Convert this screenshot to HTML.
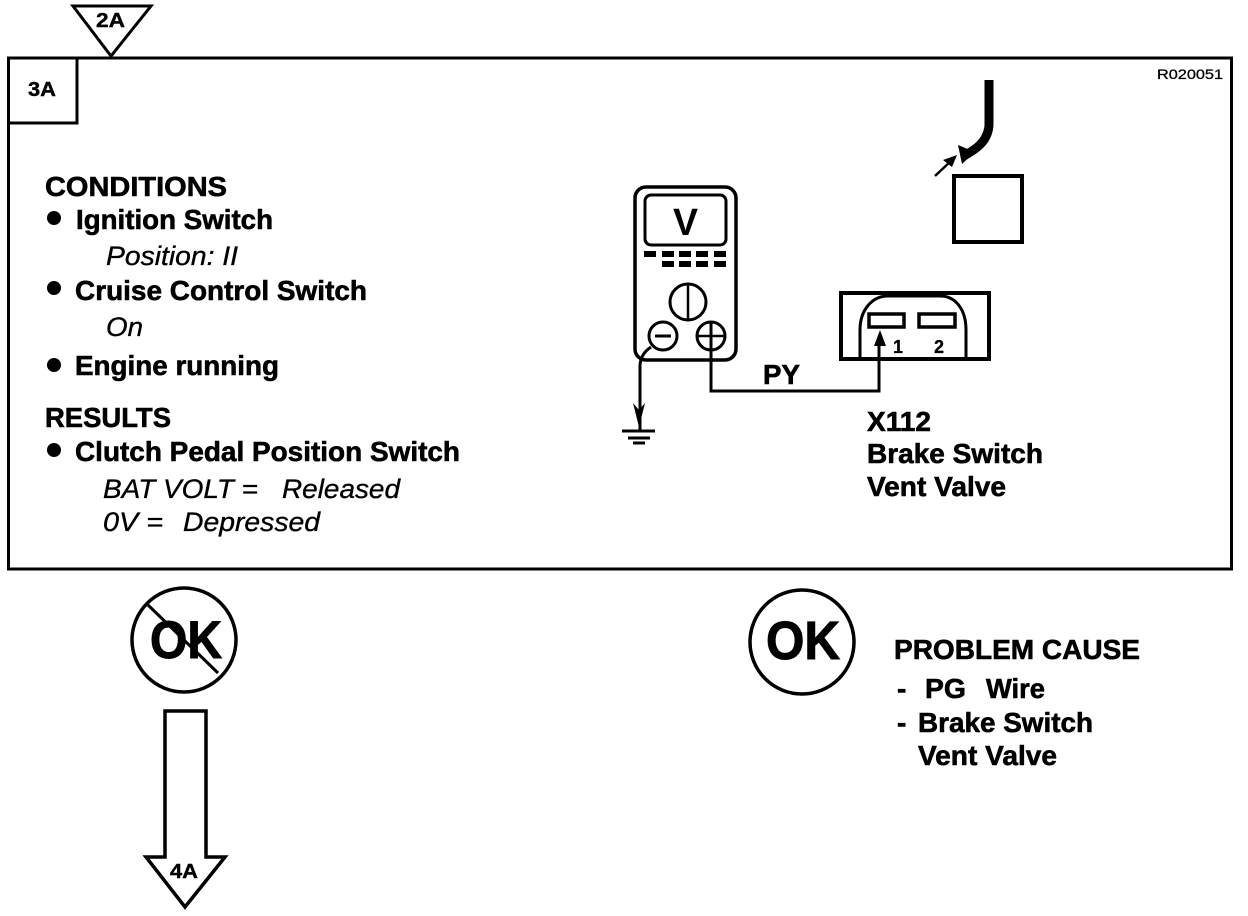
<!DOCTYPE html>
<html><head><meta charset="utf-8"><style>
html,body{margin:0;padding:0;background:#fff}
svg{display:block}
text{font-family:"Liberation Sans",sans-serif;fill:#000}
.b{font-weight:bold;font-size:28px;stroke:#000;stroke-width:.6px}
.i{font-style:italic;font-size:27px;stroke:#000;stroke-width:.35px}
</style></head><body>
<svg width="1248" height="916" viewBox="0 0 1248 916" xmlns="http://www.w3.org/2000/svg">
<rect width="1248" height="916" fill="#fff"/>
<g fill="none" stroke="#000">
<rect x="8.5" y="58" width="1223" height="511" stroke-width="3"/>
<path d="M77 58V123H8" stroke-width="3"/>
<path d="M73 6H151L111 56Z" stroke-width="3" fill="#fff"/>
<circle cx="184" cy="640" r="52" stroke-width="3.5"/>
<circle cx="802" cy="642" r="52" stroke-width="3.5"/>
<path d="M165 711H206V857H225L185 907L146 857H165Z" stroke-width="3.5"/>
<!-- meter -->
<rect x="635" y="187" width="101" height="173" rx="11" stroke-width="3.5"/>
<rect x="645" y="195" width="81" height="50" rx="6" stroke-width="3"/>
<circle cx="688" cy="302" r="18" stroke-width="3"/>
<path d="M688 284V320" stroke-width="2.5"/>
<circle cx="663" cy="336" r="14" stroke-width="3"/>
<path d="M655 336H671" stroke-width="3"/>
<circle cx="711" cy="336" r="14" stroke-width="3"/>
<path d="M697 336H725" stroke-width="2.5"/>
<path d="M711 322V391H879V340" stroke-width="3"/>
<path d="M651 347C645 351 641 356 640 365V430" stroke-width="3"/>
<path d="M622 431H655" stroke-width="3"/>
<path d="M628 438H650" stroke-width="3"/>
<path d="M633 443H645" stroke-width="3"/>
<!-- connector -->
<rect x="841" y="293" width="148" height="66" stroke-width="4"/>
<path d="M860 358V330C860 310 872 296 888 296H940C956 296 966 310 966 330V358" stroke-width="3"/>
<rect x="869" y="314" width="35" height="13" stroke-width="3.5"/>
<rect x="919" y="314" width="36" height="13" stroke-width="3.5"/>
<!-- square -->
<rect x="954" y="176" width="68" height="66" stroke-width="4"/>
<path d="M989 80V125C988 142 975 150 962 157" stroke-width="9"/>
<path d="M935 176L952 160" stroke-width="2.5"/>
</g>
<g fill="#000">
<path d="M880 330L886 346H874Z"/>
<path d="M633 403L639 410L645 403L639 427Z"/>
<path d="M957 155L943 160L952 167Z"/>
<path d="M958 145L975 152L962 164Z"/>
<rect x="644" y="251" width="12" height="6"/><rect x="662" y="251" width="12" height="6"/><rect x="679" y="251" width="12" height="6"/><rect x="696" y="251" width="12" height="6"/><rect x="714" y="251" width="12" height="6"/>
<rect x="662" y="261" width="12" height="6"/><rect x="679" y="261" width="12" height="6"/><rect x="696" y="261" width="12" height="6"/><rect x="714" y="261" width="12" height="6"/>
<circle cx="54" cy="218" r="7"/><circle cx="54" cy="288" r="7"/><circle cx="54" cy="365" r="7"/><circle cx="54" cy="450" r="7"/>
</g>
<g>
<text class="b" x="45" y="196" textLength="182" lengthAdjust="spacingAndGlyphs">CONDITIONS</text>
<text class="b" x="76" y="229" textLength="197" lengthAdjust="spacingAndGlyphs">Ignition Switch</text>
<text class="i" x="106" y="265" textLength="132" lengthAdjust="spacingAndGlyphs">Position: II</text>
<text class="b" x="75" y="300" textLength="292" lengthAdjust="spacingAndGlyphs">Cruise Control Switch</text>
<text class="i" x="106" y="336" textLength="37" lengthAdjust="spacingAndGlyphs">On</text>
<text class="b" x="75" y="375" textLength="204" lengthAdjust="spacingAndGlyphs">Engine running</text>
<text class="b" x="45" y="427" textLength="126" lengthAdjust="spacingAndGlyphs">RESULTS</text>
<text class="b" x="75" y="461" textLength="385" lengthAdjust="spacingAndGlyphs">Clutch Pedal Position Switch</text>
<text class="i" x="103" y="498" textLength="155" lengthAdjust="spacingAndGlyphs">BAT VOLT =</text>
<text class="i" x="282" y="498" textLength="118" lengthAdjust="spacingAndGlyphs">Released</text>
<text class="i" x="103" y="531" textLength="60" lengthAdjust="spacingAndGlyphs">0V =</text>
<text class="i" x="183" y="531" textLength="137" lengthAdjust="spacingAndGlyphs">Depressed</text>
<text class="b" x="867" y="431" textLength="64" lengthAdjust="spacingAndGlyphs">X112</text>
<text class="b" x="867" y="463" textLength="176" lengthAdjust="spacingAndGlyphs">Brake Switch</text>
<text class="b" x="867" y="496" textLength="139" lengthAdjust="spacingAndGlyphs">Vent Valve</text>
<text class="b" x="763" y="384" textLength="37" lengthAdjust="spacingAndGlyphs">PY</text>
<text class="b" x="894" y="659" textLength="246" lengthAdjust="spacingAndGlyphs">PROBLEM CAUSE</text>
<text class="b" x="897" y="698">-</text>
<text class="b" x="925" y="698" textLength="41" lengthAdjust="spacingAndGlyphs">PG</text>
<text class="b" x="986" y="698" textLength="59" lengthAdjust="spacingAndGlyphs">Wire</text>
<text class="b" x="897" y="732">-</text>
<text class="b" x="918" y="732" textLength="175" lengthAdjust="spacingAndGlyphs">Brake Switch</text>
<text class="b" x="918" y="765" textLength="139" lengthAdjust="spacingAndGlyphs">Vent Valve</text>
<text x="150" y="658" font-size="53" font-weight="bold" textLength="72" lengthAdjust="spacingAndGlyphs" stroke="#000" stroke-width="1">OK</text>
<text x="766" y="659" font-size="54" font-weight="bold" textLength="74" lengthAdjust="spacingAndGlyphs" stroke="#000" stroke-width="1">OK</text>
<text x="1157" y="79" font-size="14" textLength="66" lengthAdjust="spacingAndGlyphs" stroke="#000" stroke-width=".3">R020051</text>
<text x="96" y="27" font-size="20" font-weight="bold" textLength="29" lengthAdjust="spacingAndGlyphs" stroke="#000" stroke-width=".4">2A</text>
<text x="28" y="96" font-size="20" font-weight="bold" textLength="28" lengthAdjust="spacingAndGlyphs" stroke="#000" stroke-width=".4">3A</text>
<text x="170" y="878" font-size="20" font-weight="bold" textLength="28" lengthAdjust="spacingAndGlyphs" stroke="#000" stroke-width=".4">4A</text>
<text x="673" y="235" font-size="38" font-weight="bold" textLength="25" lengthAdjust="spacingAndGlyphs">V</text>
<text x="893" y="353" font-size="18" font-weight="bold" stroke="#000" stroke-width=".3">1</text>
<text x="934" y="353" font-size="18" font-weight="bold" stroke="#000" stroke-width=".3">2</text>
</g>
<path d="M148 605L218 673" fill="none" stroke="#000" stroke-width="3"/>
</svg>
</body></html>
